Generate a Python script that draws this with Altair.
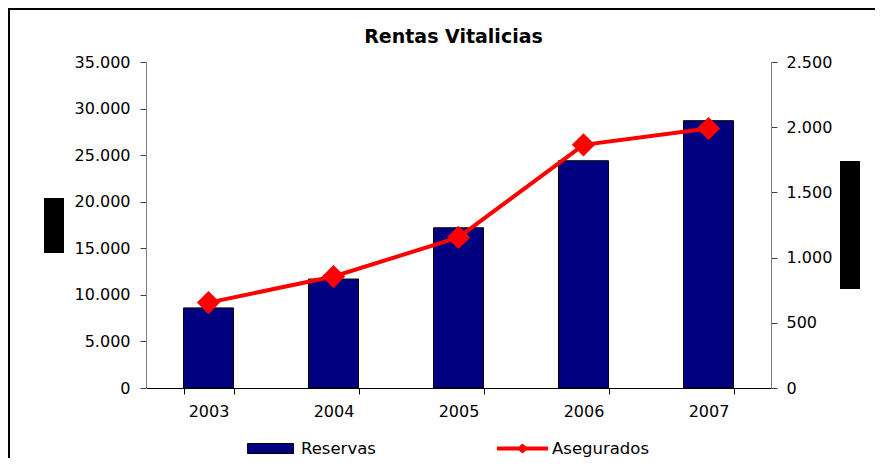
import altair as alt
import pandas as pd

years = ["2003", "2004", "2005", "2006", "2007"]
reservas = [8600, 11700, 17200, 24400, 28700]
asegurados = [655, 855, 1155, 1865, 1990]
left_ticks = [0, 5000, 10000, 15000, 20000, 25000, 30000, 35000]
right_ticks = [0, 500, 1000, 1500, 2000, 2500]

df = pd.DataFrame({
    "year": years,
    "reservas": reservas,
    "asegurados": asegurados,
    "s1": ["Reservas"] * len(years),
    "s2": ["Asegurados"] * len(years),
})
one = pd.DataFrame({"k": [0]})

FONT = "DejaVu Sans"
lab = "replace(format(datum.value, ','), ',', '.')"

xenc = alt.X("year:N", title=None,
             scale=alt.Scale(paddingInner=0.6, paddingOuter=0.3),
             axis=alt.Axis(labelAngle=0, tickBand="extent", tickSize=6,
                           labelPadding=9, labelFont=FONT, labelFontSize=16,
                           labelColor="#000000", domainColor="#000000",
                           tickColor="#000000", grid=False))

bars = alt.Chart(df).mark_bar(stroke="#000000", strokeWidth=1).encode(
    x=xenc,
    y=alt.Y("reservas:Q", title=None,
            scale=alt.Scale(domain=[0, 35000], nice=False),
            axis=alt.Axis(values=left_ticks, labelExpr=lab, tickSize=6,
                          labelPadding=10, labelFont=FONT, labelFontSize=16,
                          labelColor="#000000", domainColor="#808080",
                          tickColor="#404040", grid=False)),
    fill=alt.Fill("s1:N", title=None,
                  scale=alt.Scale(domain=["Reservas"], range=["#000080"]),
                  legend=alt.Legend(orient="none", legendX=101, legendY=363,
                                    symbolType="M-1,-0.217H1V0.217H-1Z",
                                    symbolSize=2116, symbolStrokeColor="#000000",
                                    symbolStrokeWidth=1, labelOffset=7,
                                    labelFont=FONT, labelFontSize=16.5,
                                    labelColor="#000000", padding=0)),
)

line = alt.Chart(df).mark_line(color="#FF0000", strokeWidth=4).encode(
    x=alt.X("year:N"),
    y=alt.Y("asegurados:Q", title=None,
            scale=alt.Scale(domain=[0, 2500], nice=False),
            axis=alt.Axis(orient="right", values=right_ticks, labelExpr=lab,
                          tickSize=6, labelPadding=9, labelFont=FONT,
                          labelFontSize=16, labelColor="#000000",
                          domainColor="#808080", tickColor="#404040",
                          grid=False)),
    stroke=alt.Stroke("s2:N", title=None,
                      scale=alt.Scale(domain=["Asegurados"], range=["#FF0000"]),
                      legend=alt.Legend(orient="none", legendX=351, legendY=361,
                                        symbolType="M-1,-0.078H1V0.078H-1Z M-0.235,0L0,-0.2L0.235,0L0,0.2Z",
                                        symbolSize=2601, symbolFillColor="#FF0000",
                                        symbolStrokeWidth=0, labelOffset=4,
                                        labelFont=FONT, labelFontSize=16.5,
                                        labelColor="#000000", padding=0)),
)

points = alt.Chart(df).mark_point(shape="diamond", filled=True, size=540,
                                  color="#FF0000", opacity=1).encode(
    x=alt.X("year:N"),
    y=alt.Y("asegurados:Q"),
)

frame = alt.Chart(one).mark_rect(fill="transparent", stroke="#000000",
                                 strokeWidth=2).encode(
    x=alt.value(-137), x2=alt.value(900), y=alt.value(-53), y2=alt.value(600))

box_left = alt.Chart(one).mark_rect(color="#000000").encode(
    x=alt.value(-102), x2=alt.value(-82), y=alt.value(136), y2=alt.value(191))
box_right = alt.Chart(one).mark_rect(color="#000000").encode(
    x=alt.value(694), x2=alt.value(714), y=alt.value(99), y2=alt.value(227))

right_layer = alt.layer(line, points)

chart = alt.layer(bars, right_layer, frame, box_left, box_right).resolve_scale(
    y="independent", fill="independent", stroke="independent"
).properties(
    width=625, height=326,
    padding={"left": 138, "top": 54, "right": 104, "bottom": 70},
    autosize=alt.AutoSizeParams(type="none"),
    title=alt.TitleParams("Rentas Vitalicias", font=FONT, fontSize=19,
                          fontWeight="bold", color="#000000", anchor="middle",
                          baseline="alphabetic", dx=-5, dy=54, offset=0),
).configure_view(stroke=None)

chart.save("out.html", embed_options={"renderer": "svg", "actions": False})
